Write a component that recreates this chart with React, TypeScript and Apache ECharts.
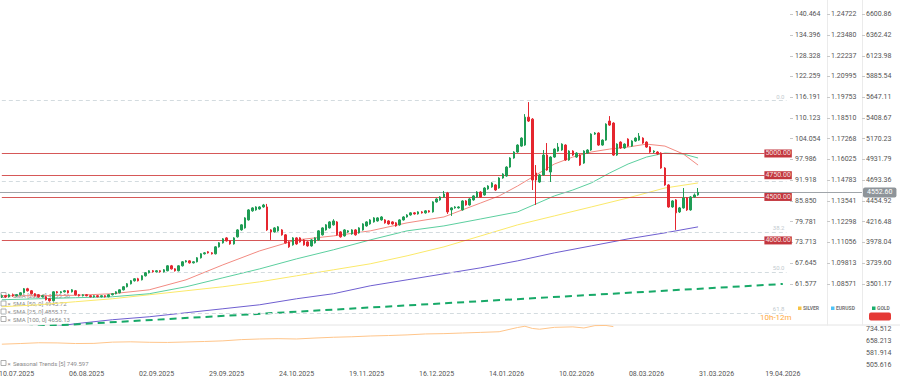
import React, { useEffect, useRef } from "react";
import * as echarts from "echarts";

// ---------- data ----------
const SLOT_COUNT = 234;
const dateTicks = ["10.07.2025", "06.08.2025", "02.09.2025", "29.09.2025", "24.10.2025", "19.11.2025", "16.12.2025", "14.01.2026", "10.02.2026", "08.03.2026", "31.03.2026", "19.04.2026"];
const dateTickSlots = [4, 23, 42, 61, 80, 99, 118, 137, 156, 175, 194, 212];

const silverTicks = [61.577, 67.645, 73.713, 79.781, 85.85, 91.918, 97.986, 104.054, 110.123, 116.191, 122.259, 128.328, 134.396, 140.464];
const eurusdTicks = [1.08571, 1.09813, 1.11056, 1.12298, 1.13541, 1.14783, 1.16025, 1.17268, 1.1851, 1.19753, 1.20995, 1.22237, 1.2348, 1.24722];
const goldTicks = [3501.17, 3739.6, 3978.04, 4216.48, 4454.92, 4693.36, 4931.79, 5170.23, 5408.67, 5647.11, 5885.54, 6123.98, 6362.42, 6600.86];
const seasonalTicks = [505.616, 581.914, 658.213, 734.512];

// [open, close, low, high]
const goldOHLC = [
  [3352,3364,3338,3377],[3364,3352,3340,3372],[3352,3375,3343,3386],[3375,3364,3352,3389],[3364,3375,3355,3384],
  [3375,3398,3367,3405],[3398,3444,3390,3453],[3444,3421,3412,3455],[3421,3387,3378,3430],[3387,3364,3355,3395],
  [3375,3352,3341,3383],[3352,3364,3344,3372],[3352,3318,3310,3360],[3329,3306,3296,3338],[3306,3409,3298,3416],
  [3409,3398,3389,3418],[3398,3409,3390,3417],[3409,3421,3401,3430],[3421,3398,3390,3428],[3409,3432,3401,3440],
  [3421,3375,3366,3430],[3375,3364,3355,3383],[3364,3375,3356,3382],[3375,3364,3357,3383],[3364,3352,3345,3371],
  [3352,3364,3343,3370],[3364,3352,3346,3372],[3352,3364,3345,3370],[3364,3352,3344,3370],[3352,3375,3346,3381],
  [3375,3387,3368,3394],[3387,3409,3380,3416],[3398,3432,3391,3438],[3432,3467,3425,3475],[3467,3501,3460,3510],
  [3501,3536,3494,3545],[3536,3559,3527,3565],[3559,3536,3528,3570],[3547,3593,3540,3600],[3593,3628,3585,3636],
  [3628,3651,3620,3658],[3651,3639,3631,3660],[3639,3651,3632,3659],[3651,3639,3630,3658],[3639,3662,3631,3670],
  [3651,3708,3645,3716],[3708,3673,3665,3718],[3673,3651,3642,3680],[3651,3708,3644,3715],[3708,3754,3700,3762],
  [3754,3765,3746,3774],[3765,3742,3734,3772],[3742,3754,3735,3761],[3754,3800,3747,3808],[3800,3846,3792,3853],
  [3846,3857,3838,3866],[3869,3857,3849,3877],[3857,3846,3838,3865],[3846,3926,3839,3934],[3926,3972,3918,3980],
  [3972,4018,3964,4026],[4029,3995,3987,4038],[3995,3960,3951,4003],[3960,4029,3952,4037],[4041,4121,4033,4130],
  [4121,4179,4112,4187],[4144,4259,4136,4267],[4236,4351,4228,4360],[4340,4374,4330,4382],[4351,4385,4342,4393],
  [4362,4385,4354,4394],[4385,4408,4376,4420],[4385,4121,4110,4420],[4121,4098,4006,4130],[4098,4144,4090,4152],
  [4110,4156,4101,4165],[4121,4064,4055,4130],[4064,3972,3963,4073],[3983,3926,3915,3992],[3949,4029,3940,4038],
  [4029,3960,3950,4037],[4029,3983,3975,4037],[4006,3949,3940,4015],[3983,3937,3928,3992],[3937,4006,3928,4015],
  [3972,4029,3964,4037],[4006,4110,3998,4118],[4064,4144,4056,4152],[4121,4179,4113,4187],[4144,4213,4136,4221],
  [4179,4224,4170,4244],[4213,4064,4055,4222],[4098,4041,4032,4106],[4052,4121,4044,4130],[4098,4110,4088,4118],
  [4075,4121,4066,4129],[4121,4064,4055,4130],[4087,4144,4078,4152],[4121,4190,4113,4198],[4167,4213,4158,4221],
  [4190,4236,4181,4245],[4213,4259,4205,4268],[4224,4259,4216,4267],[4236,4270,4227,4279],[4236,4202,4193,4245],
  [4224,4190,4181,4233],[4213,4190,4182,4221],[4202,4167,4158,4210],[4179,4236,4170,4244],[4236,4270,4228,4279],
  [4270,4293,4262,4302],[4293,4317,4285,4325],[4317,4305,4297,4326],[4305,4328,4297,4336],[4328,4317,4309,4337],
  [4317,4340,4308,4348],[4340,4328,4320,4349],[4328,4443,4320,4451],[4443,4477,4434,4486],[4466,4500,4457,4509],
  [4500,4534,4492,4569],[4546,4328,4305,4558],[4351,4374,4282,4382],[4374,4385,4365,4394],[4374,4385,4366,4393],
  [4351,4454,4343,4462],[4454,4408,4400,4463],[4408,4477,4400,4486],[4466,4512,4457,4520],[4500,4557,4492,4566],
  [4557,4500,4491,4566],[4523,4603,4515,4612],[4592,4626,4583,4635],[4615,4661,4606,4670],[4638,4580,4571,4647],
  [4603,4718,4595,4727],[4718,4764,4710,4773],[4741,4844,4733,4853],[4844,4948,4836,4957],[4948,5017,4940,5026],
  [5017,5097,5008,5106],[5085,5177,5077,5186],[5097,5418,5088,5453],[5418,5373,5362,5591],[5395,4695,4580,5407],
  [4776,4695,4408,4867],[4672,4753,4663,4762],[4753,4982,4744,5040],[4982,4810,4801,5120],[4787,4959,4672,4968],
  [4959,5051,4950,5060],[5028,5074,5020,5120],[5040,5108,5031,5117],[5097,4925,4916,5106],[4925,5028,4916,5037],
  [5028,4982,4973,5037],[4959,5005,4950,5014],[4982,4867,4858,4991],[4890,5028,4881,5037],[5005,5040,4997,5049],
  [5040,5223,5031,5232],[5223,5235,5214,5246],[5235,5097,5088,5244],[5097,5154,5089,5163],[5154,5338,5146,5347],
  [5373,5327,5318,5430],[5350,4982,4973,5359],[4982,5108,4973,5117],[5131,5063,5054,5140],[5063,5108,5054,5117],
  [5166,5085,5076,5175],[5085,5143,5076,5152],[5143,5177,5134,5186],[5154,5200,5146,5235],[5177,5120,5111,5186],
  [5131,5074,5065,5140],[5074,5017,5008,5083],[5017,5028,5005,5037],[5017,4994,4985,5026],[5005,4833,4824,5014],
  [4833,4638,4629,4842],[4638,4385,4376,4647],[4385,4454,4376,4463],[4466,4317,4121,4475],[4328,4374,4316,4385],
  [4374,4489,4365,4603],[4489,4351,4340,4498],[4351,4500,4342,4510],[4500,4523,4492,4540],[4523,4552.6,4514,4603],
];

// moving averages: [slot, value]
const sma25 = [[0,3364],[10,3364],[20,3369],[30,3387],[40,3432],[50,3547],[60,3719],[70,3880],[80,4006],[90,4052],[100,4110],[110,4202],[120,4270],[125,4351],[130,4431],[135,4512],[140,4626],[145,4753],[150,4879],[155,4959],[160,5017],[165,5051],[170,5074],[175,5108],[180,5085],[185,4994],[189,4867]];
const sma50 = [[0,3318],[10,3329],[20,3341],[30,3352],[40,3387],[50,3467],[60,3570],[70,3673],[80,3788],[90,3892],[100,4006],[110,4110],[120,4167],[130,4247],[140,4328],[145,4420],[150,4512],[155,4580],[160,4661],[165,4776],[170,4879],[175,4959],[180,5005],[185,4994],[189,4948]];
const sma100 = [[0,3237],[10,3260],[20,3295],[30,3329],[40,3375],[50,3421],[60,3467],[70,3524],[80,3593],[90,3662],[100,3731],[110,3823],[120,3926],[130,4052],[140,4179],[150,4282],[160,4385],[170,4489],[180,4603],[189,4661]];
const sma200 = [[0,2950],[10,2985],[20,3042],[30,3088],[40,3122],[50,3168],[60,3214],[70,3260],[80,3329],[90,3387],[100,3478],[110,3547],[120,3616],[130,3685],[140,3765],[150,3857],[160,3937],[170,4018],[180,4087],[189,4156]];
const trendPoints = [[0, 2987], [212, 3499]];

const seasonal = [[0,638],[5,642],[10,647],[15,646],[20,642],[25,643],[30,651],[35,653],[40,650],[45,649],[50,652],[55,655],[60,659],[65,667],[70,671],[75,673],[80,671],[85,677],[90,682],[95,685],[100,690],[105,693],[110,697],[115,703],[120,705],[125,709],[130,713],[135,717],[140,744],[142,752],[144,738],[146,733],[150,745],[155,748],[158,741],[161,756],[164,757],[166,749.597]];

const currentPrice = 4552.6;
const levelPrices = [5000, 4750, 4500, 4000];
const fibLabels = ["0.0", "23.6", "38.2", "50.0", "61.8"];
const fibPrices = [5614, 4684, 4098, 3639, 3168];
const smaLegend = ["SMA [200, 0] 4155.56", "SMA [50, 0] 4945.72", "SMA [25, 0] 4855.17", "SMA [100, 0] 4656.13"];
const seasonalLegend = "Seasonal Trends [5] 749.597";
const instruments = ["SILVER", "EURUSD", "GOLD"];

// ---------- styles ----------
const UP = "#1f9d55";
const DOWN = "#e5262f";
const FONT = "Roboto";
const LEVEL_END_SLOT = 207;
const FIB_END_SLOT = 213;

function buildOption() {
  const slots = Array.from({ length: SLOT_COUNT }, (_, i) => String(i));
  const tickMap: Record<number, string> = {};
  dateTickSlots.forEach((s, i) => (tickMap[s] = dateTicks[i]));

  const rightAxis = (opts: any) => ({
    type: "value",
    position: "right",
    scale: true,
    splitLine: { show: false },
    axisTick: { show: true, length: 3, lineStyle: { color: "#c8c8c8" }, customValues: opts.ticks },
    axisLine: { show: opts.line, lineStyle: { color: "#ebebeb" } },
    axisLabel: {
      customValues: opts.ticks,
      formatter: (v: number) => v.toFixed(opts.dec),
      color: "#555",
      fontSize: 7,
      fontFamily: FONT,
      margin: opts.margin,
    },
    ...opts.extra,
  });

  const legendY = [295, 303.5, 311.5, 319];
  const graphics: any[] = [
    { type: "line", z: 0, silent: true, shape: { x1: 0, y1: 325, x2: 900, y2: 325 }, style: { stroke: "#e4e4e4", lineWidth: 1 } },
  ];
  smaLegend.forEach((t, i) => {
    graphics.push({ type: "rect", z: 0, silent: true, shape: { x: 1, y: legendY[i] - 2.5, width: 5, height: 5 }, style: { fill: "#fff", stroke: "#9a9a9a", lineWidth: 0.8 } });
    graphics.push({ type: "text", z: 0, silent: true, x: 7.5, y: legendY[i], style: { text: "×", fill: "#8a8a8a", fontSize: 6, fontFamily: FONT, verticalAlign: "middle" } });
    graphics.push({ type: "text", z: 0, silent: true, x: 13, y: legendY[i], style: { text: t, fill: "#8a8a8a", fontSize: 6, fontFamily: FONT, verticalAlign: "middle" } });
  });
  graphics.push({ type: "rect", z: 0, silent: true, shape: { x: 1, y: 360.5, width: 5, height: 5 }, style: { fill: "#fff", stroke: "#9a9a9a", lineWidth: 0.8 } });
  graphics.push({ type: "text", z: 0, silent: true, x: 7.5, y: 363, style: { text: "×", fill: "#8a8a8a", fontSize: 6, fontFamily: FONT, verticalAlign: "middle" } });
  graphics.push({ type: "text", z: 0, silent: true, x: 13, y: 363, style: { text: seasonalLegend, fill: "#8a8a8a", fontSize: 6, fontFamily: FONT, verticalAlign: "middle" } });
  graphics.push({ type: "text", z: 10, silent: true, x: 760, y: 317, style: { text: "10h-12m", fill: "#ffa940", fontSize: 8, fontFamily: FONT, verticalAlign: "middle" } });

  const instColors = ["#f6c343", "#4fc3f7", "#1aae6f"];
  const instX = [798, 831, 872];
  instruments.forEach((name, i) => {
    graphics.push({ type: "rect", z: 10, silent: true, shape: { x: instX[i], y: 306.5, width: 3.5, height: 3.5 }, style: { fill: instColors[i] } });
    graphics.push({ type: "text", z: 10, silent: true, x: instX[i] + 5, y: 308.3, style: { text: name, fill: "#777", fontSize: 5, fontWeight: "bold", fontFamily: FONT, verticalAlign: "middle" } });
  });
  graphics.push({ type: "rect", z: 10, silent: true, shape: { x: 869, y: 312.5, width: 22, height: 8, r: 2 }, style: { fill: "#e53935" } });

  return {
    animation: false,
    backgroundColor: "#fff",
    textStyle: { fontFamily: FONT },
    grid: [
      { left: 0, top: 0, width: 862, height: 325, containLabel: false, outerBoundsMode: "none" },
      { left: 0, top: 325, width: 862, height: 43, containLabel: false, outerBoundsMode: "none" },
    ],
    xAxis: [
      { type: "category", gridIndex: 0, data: slots, boundaryGap: true, axisLine: { show: false }, axisTick: { show: false }, axisLabel: { show: false }, splitLine: { show: false } },
      {
        type: "category", gridIndex: 1, data: slots, boundaryGap: true,
        axisLine: { show: false }, axisTick: { show: false }, splitLine: { show: false },
        axisLabel: { interval: 0, margin: 2, fontSize: 7, color: "#555", fontFamily: FONT, formatter: (_v: string, idx: number) => tickMap[idx] || "" },
      },
    ],
    yAxis: [
      rightAxis({ ticks: silverTicks, dec: 3, line: false, margin: 5, extra: { gridIndex: 0, offset: -72, min: 49.517, max: 144.65 } }),
      rightAxis({ ticks: eurusdTicks, dec: 5, line: true, margin: 4, extra: { gridIndex: 0, offset: -35, min: 1.06102, max: 1.25579 } }),
      rightAxis({ ticks: goldTicks, dec: 2, line: true, margin: 4, extra: { gridIndex: 0, offset: 0, min: 3027.3, max: 6765.3 } }),
      rightAxis({ ticks: seasonalTicks, dec: 3, line: false, margin: 4, extra: { gridIndex: 1, offset: 0, min: 486.5, max: 759.9, axisTick: { show: false } } }),
    ],
    graphic: graphics,
    series: [
      {
        type: "line", name: "fib", xAxisIndex: 0, yAxisIndex: 2, data: [], z: 1,
        markLine: {
          silent: true, symbol: ["none", "none"], animation: false,
          lineStyle: { color: "#d3dbdf", width: 1, type: [4, 3] },
          label: { position: "insideEndTop", distance: [1, 1], color: "#c2cacf", fontSize: 6, backgroundColor: "#fff", padding: [0, 1, 0, 2], formatter: "{b}" },
          data: fibPrices.map((p, i) => [
            { name: fibLabels[i], coord: [0, p], label: i === 1 ? { show: false } : undefined },
            { coord: [FIB_END_SLOT, p] },
          ]),
        },
      },
      {
        type: "line", name: "levels", xAxisIndex: 0, yAxisIndex: 2, data: [], z: 1,
        markLine: {
          silent: true, symbol: ["none", "none"], animation: false,
          lineStyle: { color: "#cf3b3b", width: 1, type: "solid", opacity: 0.85 },
          label: { position: "end", distance: 0, color: "#fff", backgroundColor: "#b8141c", fontSize: 7, padding: [1, 1, 0, 1], formatter: "{b}" },
          data: levelPrices.map((p) => [{ name: p.toFixed(2), coord: [0, p] }, { coord: [LEVEL_END_SLOT, p] }]),
        },
      },
      { type: "line", name: "SMA200", xAxisIndex: 0, yAxisIndex: 2, data: sma200, symbol: "none", z: 3, lineStyle: { color: "#6f5fd0", width: 1 } },
      { type: "line", name: "SMA100", xAxisIndex: 0, yAxisIndex: 2, data: sma100, symbol: "none", z: 3, lineStyle: { color: "#fbe96a", width: 1 } },
      { type: "line", name: "SMA50", xAxisIndex: 0, yAxisIndex: 2, data: sma50, symbol: "none", z: 3, lineStyle: { color: "#5ccf9f", width: 1 } },
      { type: "line", name: "SMA25", xAxisIndex: 0, yAxisIndex: 2, data: sma25, symbol: "none", z: 3, lineStyle: { color: "#f28b82", width: 1 } },
      { type: "line", name: "trend", xAxisIndex: 0, yAxisIndex: 2, data: trendPoints, symbol: "none", z: 3, lineStyle: { color: "#17a968", width: 2, type: [7, 5] } },
      {
        type: "candlestick", name: "GOLD", xAxisIndex: 0, yAxisIndex: 2, data: goldOHLC, barWidth: 2, z: 5,
        itemStyle: { color: UP, color0: DOWN, borderColor: UP, borderColor0: DOWN, borderWidth: 1 },
        markLine: {
          silent: true, symbol: ["none", "none"], animation: false,
          lineStyle: { color: "#a0a5aa", width: 1, type: "solid" },
          label: { position: "end", distance: 1, formatter: currentPrice.toFixed(2), color: "#fff", backgroundColor: "#8e9499", padding: [2, 4, 1, 4], fontSize: 7, borderRadius: 2 },
          data: [{ yAxis: currentPrice }],
        },
      },
      { type: "line", name: "Seasonal", xAxisIndex: 1, yAxisIndex: 3, data: seasonal, symbol: "none", z: 3, lineStyle: { color: "#ffc58a", width: 1 } },
    ],
  };
}

export default function App() {
  const ref = useRef<HTMLDivElement>(null);
  useEffect(() => {
    if (!ref.current) return;
    const chart = echarts.init(ref.current, null, { renderer: "svg" });
    chart.setOption(buildOption() as any);
    return () => chart.dispose();
  }, []);
  return <div ref={ref} style={{ position: "fixed", left: 0, top: 0, width: 900, height: 380, background: "#fff" }} />;
}
